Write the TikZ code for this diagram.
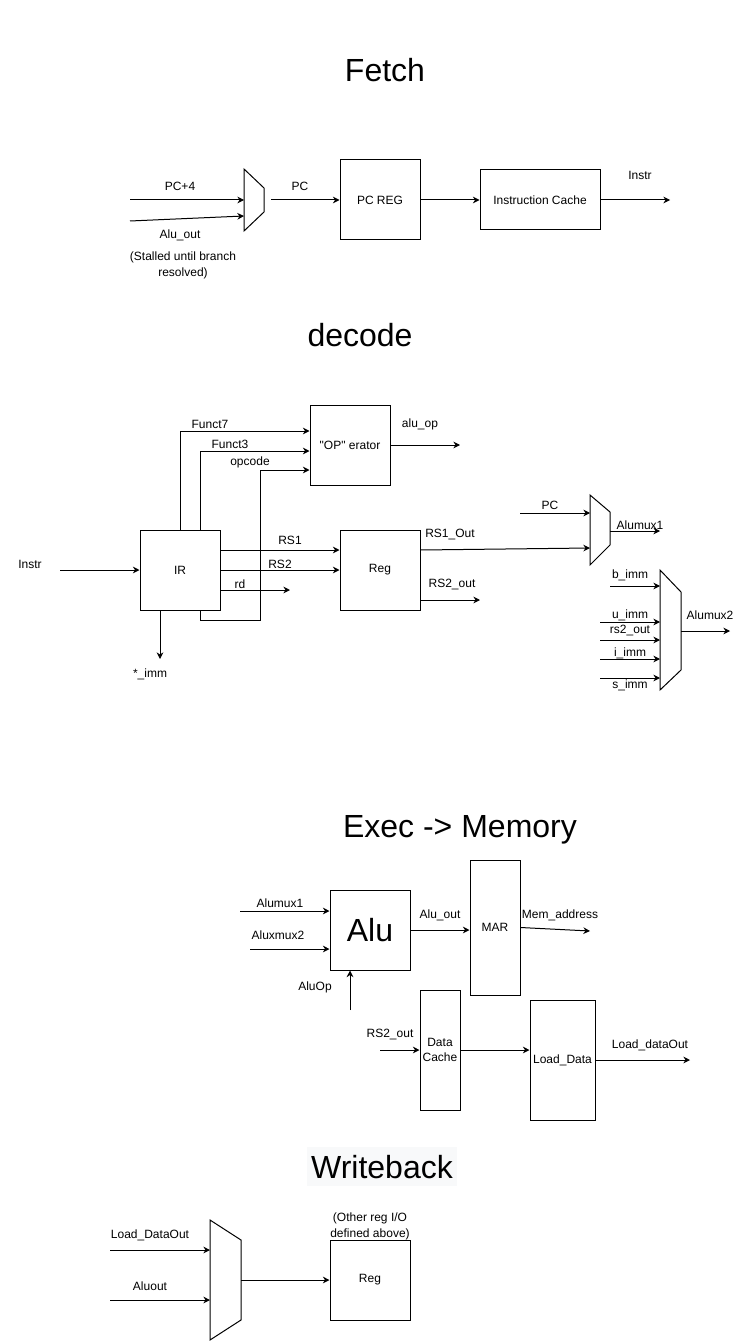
\documentclass[tikz,border=0pt]{standalone}
\usepackage{fontspec}
\setmainfont{Liberation Sans}
\usetikzlibrary{arrows.meta}
\definecolor{titlebg}{RGB}{248,249,250}

\begin{document}
\begin{tikzpicture}[x=0.75pt,y=-0.75pt,line width=0.75pt,
    >={Stealth[length=5pt,width=5pt]},
    box/.style={draw,inner sep=0pt,minimum width=60pt,minimum height=60pt,font=\fontsize{9}{11}\selectfont},
    lbl/.style={inner sep=0pt,font=\fontsize{9}{12}\selectfont},
    title/.style={inner sep=0pt,font=\fontsize{24}{28}\selectfont}]
\useasboundingbox (0,0) rectangle (741,1341);

% Fetch
\node[title] (fetchT) at (385,70) {Fetch};
\draw (244,169) -- (264,188) -- (264,212) -- (244,231) -- cycle;
\coordinate (pcfourIn) at (130,200);
\coordinate (pcfourMux) at (244,200);
\coordinate (aluoutIn) at (130,221);
\coordinate (aluoutMux) at (244,216);
\coordinate (fmuxOut) at (271,200);
\coordinate (instrEnd) at (670,200);
\node[box] (pcreg) at (380,200) {PC REG};
\node[box,minimum width=90pt,minimum height=45pt] (icache) at (540,200) {Instruction Cache};
\draw[->] (pcfourIn) -- (pcfourMux);
\draw[->] (aluoutIn) -- (aluoutMux);
\draw[->] (fmuxOut) -- (pcreg.west);
\draw[->] (pcreg) -- (icache);
\draw[->] (icache.east) -- (instrEnd);
\node[lbl] (pcfourL) at (180,186) {PC+4};
\node[lbl] (aluoutL) at (180,235) {Alu\_out};
\node[lbl,align=center] (stallL) at (183,265) {(Stalled until branch\\resolved)};
\node[lbl] (pcL) at (300,186) {PC};
\node[lbl] (instrL) at (640,175) {Instr};

% decode
\node[title] (decodeT) at (360,335) {decode};
\coordinate (instrIn) at (60,570);
\node[box] (ir) at (180,570) {IR};
\node[box] (oper) at (350,445) {\textquotedbl OP\textquotedbl{} erator};
\node[box] (reg) at (380,570) {Reg};
\coordinate (rdEnd) at (290,590);
\coordinate (aluopEnd) at (460,445);
\coordinate (rstwoEnd) at (480,600);
\coordinate (immEnd) at (160,659);
\draw[->] (instrIn) -- (ir.west);
\draw[->] (ir.north) |- ([yshift=10.5pt]oper.west);
\draw[->] ([xshift=15pt]ir.north) |- ([yshift=-4.5pt]oper.west);
\draw[->] ([xshift=15pt]ir.south) -- ++(0,10) -- ++(60,0) |- ([yshift=-18.75pt]oper.west);
\draw[->] (oper.east) -- (aluopEnd);
\draw[->] ([yshift=15pt]ir.east) -- ([yshift=15pt]reg.west);
\draw[->] (ir.east) -- (reg.west);
\draw[->] ([yshift=-15pt]ir.east) -- (rdEnd);
\draw[->] ([xshift=-15pt]ir.south) -- (immEnd);
\draw[->] ([yshift=-22.5pt]reg.east) -- (rstwoEnd);
\node[lbl] (instrInL) at (30,564) {Instr};
\node[lbl] (fsevenL) at (210,424) {Funct7};
\node[lbl] (fthreeL) at (230,444) {Funct3};
\node[lbl] (opcodeL) at (250,462) {opcode};
\node[lbl] (aluopL) at (420,424) {alu\_op};
\node[lbl] (rsoneL) at (290,540) {RS1};
\node[lbl] (rstwoL) at (280,564) {RS2};
\node[lbl] (rdL) at (240,584) {rd};
\node[lbl] (rsoneOutL) at (450,534) {RS1\_Out};
\node[lbl] (rstwoOutL) at (452,584) {RS2\_out};
\node[lbl] (immL) at (150,674) {*\_imm};

% Alumux1
\draw (590,495) -- (610,512) -- (610,545) -- (590,565) -- cycle;
\coordinate (pcIn) at (520,513);
\coordinate (pcMux) at (590,513);
\coordinate (rsoneMux) at (590,548);
\coordinate (muxoneOut) at (610,531);
\coordinate (muxoneEnd) at (660,531);
\draw[->] (pcIn) -- (pcMux);
\draw[->] ([yshift=15pt]reg.east) -- (rsoneMux);
\draw[->] (muxoneOut) -- (muxoneEnd);
\node[lbl] (pcMuxL) at (550,505) {PC};
\node[lbl] (muxoneL) at (640,525) {Alumux1};

% Alumux2
\draw (660,570) -- (681,592) -- (681,670) -- (660,690) -- cycle;
\foreach \nm/\x/\y/\ly/\txt in {bimm/610/586/575/b\_imm, uimm/600/622/615/u\_imm,
    rstwo/600/640/630/rs2\_out, iimm/600/659/653/i\_imm, simm/600/678/685/s\_imm} {
  \coordinate (\nm In) at (\x,\y);
  \coordinate (\nm Mux) at (660,\y);
  \draw[->] (\nm In) -- (\nm Mux);
  \node[lbl] (\nm L) at (630,\ly) {\txt};
}
\coordinate (muxtwoOut) at (681,631);
\coordinate (muxtwoEnd) at (730,631);
\draw[->] (muxtwoOut) -- (muxtwoEnd);
\node[lbl] (muxtwoL) at (710,615) {Alumux2};

% Exec -> Memory
\node[title] (execT) at (460,830) {Exec -> Memory};
\node[box,font=\fontsize{24}{28}\selectfont] (alu) at (370,930) {Alu};
\node[box,minimum width=37.5pt,minimum height=101.25pt] (mar) at (495,927.5) {MAR};
\node[box,minimum width=30pt,minimum height=90pt,align=center] (dcache) at (440,1050) {Data\\Cache};
\node[box,minimum width=48.75pt,minimum height=90pt] (ldata) at (562.5,1060) {Load\_Data};
\coordinate (muxoneIn) at (240,911);
\coordinate (muxtwoIn) at (250,949);
\coordinate (aluopIn) at (350,1010);
\coordinate (memEnd) at (590,931);
\coordinate (rsIn) at (380,1050);
\coordinate (ldEnd) at (690,1060);
\draw[->] (muxoneIn) -- ([yshift=14.25pt]alu.west);
\draw[->] (muxtwoIn) -- ([yshift=-14.25pt]alu.west);
\draw[->] (aluopIn) -- ([xshift=-15pt]alu.south);
\draw[->] (alu.east) -- (alu.east -| mar.west);
\draw[->] (mar.east) -- (memEnd);
\draw[->] (rsIn) -- (dcache.west);
\draw[->] (dcache.east) -- (dcache.east -| ldata.west);
\draw[->] (ldata.east) -- (ldEnd);
\node[lbl] (muxoneInL) at (280,903) {Alumux1};
\node[lbl] (muxtwoInL) at (278,935) {Aluxmux2};
\node[lbl] (aluopInL) at (315,987) {AluOp};
\node[lbl] (aluoutExL) at (440,915) {Alu\_out};
\node[lbl] (memL) at (560,915) {Mem\_address};
\node[lbl] (rsInL) at (390,1034) {RS2\_out};
\node[lbl] (ldL) at (650,1045) {Load\_dataOut};

% Writeback
\fill[titlebg] (307,1147) rectangle (457,1186);
\node[title] (wbT) at (382,1167) {Writeback};
\draw (210,1220) -- (241,1240) -- (241,1320) -- (210,1340) -- cycle;
\coordinate (ldIn) at (110,1250);
\coordinate (ldMux) at (210,1250);
\coordinate (aoIn) at (110,1300);
\coordinate (aoMux) at (210,1300);
\coordinate (wbOut) at (241,1280);
\node[box] (wbreg) at (370,1280) {Reg};
\draw[->] (ldIn) -- (ldMux);
\draw[->] (aoIn) -- (aoMux);
\draw[->] (wbOut) -- (wbreg.west);
\node[lbl] (ldInL) at (150,1235) {Load\_DataOut};
\node[lbl] (aoInL) at (150,1286) {Aluout};
\node[lbl,align=center] (otherL) at (370,1226) {(Other reg I/O\\defined above)};
\end{tikzpicture}
\end{document}
